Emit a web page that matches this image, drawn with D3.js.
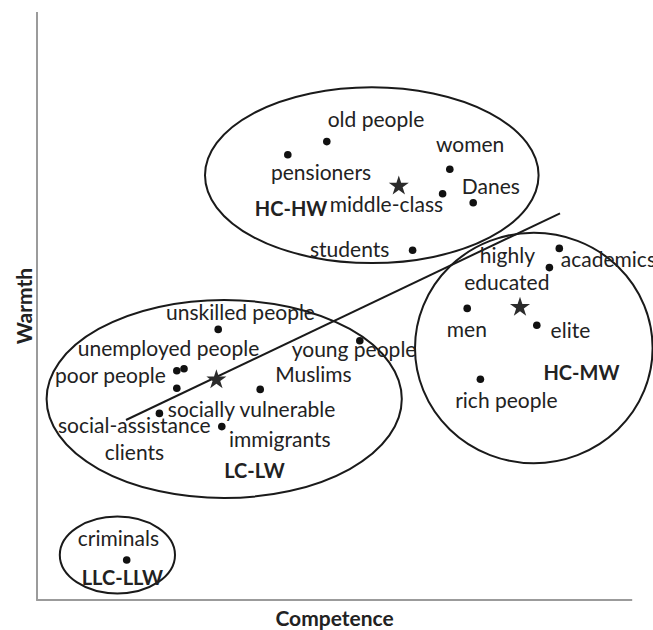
<!DOCTYPE html>
<meta charset="utf-8">
<style>
  body { margin: 0; background: #fff; }
  text { font-family: Lato, "Open Sans", sans-serif; fill: #222; }
</style>
<body>
<script src="https://d3js.org/d3.v7.min.js"></script>
<script>

var width = 653,
    height = 630;

// stereotype content, competence (c) and warmth (w) on a 0-100 scale
var hchwGroups = [
  {name: "old people",   c: 48.3, w: 76.4},
  {name: "pensioners",   c: 41.8, w: 74.2},
  {name: "women",        c: 68.8, w: 71.8},
  {name: "Danes",        c: 72.7, w: 66.2},
  {name: "middle-class", c: 67.6, w: 67.7},
  {name: "students",     c: 62.6, w: 58.3}
];
var hcmwGroups = [
  {name: "academics",       c: 87.05, w: 58.6},
  {name: "highly educated", c: 85.4,  w: 55.4},
  {name: "men",             c: 71.7,  w: 48.6},
  {name: "elite",           c: 83.3,  w: 45.8},
  {name: "rich people",     c: 73.9,  w: 36.8}
];
var lclwGroups = [
  {name: "unskilled people",          c: 30.2, w: 45.1},
  {name: "unemployed people",         c: 24.5, w: 38.55},
  {name: "poor people",               c: 23.3, w: 38.2},
  {name: "social-assistance clients", c: 23.3, w: 35.3},
  {name: "young people",              c: 53.8, w: 43.2},
  {name: "Muslims",                   c: 37.2, w: 35.1},
  {name: "socially vulnerable",       c: 20.4, w: 31.1},
  {name: "immigrants",                c: 30.8, w: 28.9}
];
var llcGroups = [
  {name: "criminals", c: 14.95, w: 6.67}
];

// cluster centroids (stars)
var centroids = [
  {cluster: "HC-HW", c: 60.3, w: 69.0},
  {cluster: "HC-MW", c: 80.5, w: 48.8},
  {cluster: "LC-LW", c: 29.9, w: 36.7}
];

// cluster ellipses: centre and half-extent in c / w units
var clusters = [
  {name: "HC-HW",   c: 55.8, w: 70.8, rc: 27.8, rw: 14.65},
  {name: "HC-MW",   c: 82.8, w: 42.0, rc: 19.8, rw: 19.2},
  {name: "LC-LW",   c: 31.2, w: 33.5, rc: 29.6, rw: 16.5},
  {name: "LLC-LLW", c: 13.4, w: 7.5,  rc: 9.6,  rw: 6.4}
];

// fitted line
var trend = [[14.83, 30.0], [87.17, 64.45]];

// where the words sit (left end of baseline)
var labels = [
  {text: "old people",        c: 48.45, w: 78.9},
  {text: "pensioners",        c: 39.0,  w: 70.0},
  {text: "women",             c: 66.5,  w: 74.7},
  {text: "Danes",             c: 70.8,  w: 67.7},
  {text: "middle-class",      c: 48.8,  w: 64.7},
  {text: "students",          c: 45.5,  w: 57.2},
  {text: "highly",            c: 73.8,  w: 56.2},
  {text: "educated",          c: 71.2,  w: 51.7},
  {text: "academics",         c: 87.3,  w: 55.55},
  {text: "men",               c: 68.3,  w: 43.9},
  {text: "elite",             c: 85.6,  w: 43.6},
  {text: "rich people",       c: 69.7,  w: 31.95},
  {text: "unskilled people",  c: 21.5,  w: 46.7},
  {text: "unemployed people", c: 6.8,   w: 40.7},
  {text: "poor people",       c: 3.0,   w: 36.1},
  {text: "young people",      c: 42.45, w: 40.55},
  {text: "Muslims",           c: 39.7,  w: 36.4},
  {text: "socially vulnerable", c: 21.8, w: 30.55},
  {text: "social-assistance", c: 3.5,   w: 27.9},
  {text: "clients",           c: 11.3,  w: 23.3},
  {text: "immigrants",        c: 32.0,  w: 25.55},
  {text: "criminals",         c: 6.8,   w: 9.0}
];
var clusterLabels = [
  {text: "HC-HW",   c: 36.3, w: 64.0},
  {text: "HC-MW",   c: 84.4, w: 36.7},
  {text: "LC-LW",   c: 31.2, w: 20.3},
  {text: "LLC-LLW", c: 7.45, w: 2.5}
];

var axisTitles = {x: "Competence", y: "Warmth"};

var x = d3.scaleLinear().domain([0, 100]).range([37, 637]);
var y = d3.scaleLinear().domain([0, 100]).range([600, 0]);

var svg = d3.select("body").append("svg")
    .attr("width", width)
    .attr("height", height);

// axes (no ticks, just the two grey lines)
svg.append("line")
    .attr("x1", x(0)).attr("x2", x(0))
    .attr("y1", y(0)).attr("y2", y(98))
    .attr("stroke", "#9b9b9b").attr("stroke-width", 2);
svg.append("line")
    .attr("x1", x(-0.15)).attr("x2", x(99.2))
    .attr("y1", y(0)).attr("y2", y(0))
    .attr("stroke", "#9b9b9b").attr("stroke-width", 2);

svg.append("text")
    .attr("x", (x(0) + x(99.2)) / 2)
    .attr("y", 626)
    .attr("text-anchor", "middle")
    .attr("font-weight", "bold")
    .attr("font-size", 21)
    .text(axisTitles.x);
svg.append("text")
    .attr("transform", "translate(32," + (y(0) + y(98)) / 2 + ") rotate(-90)")
    .attr("text-anchor", "middle")
    .attr("font-weight", "bold")
    .attr("font-size", 21)
    .text(axisTitles.y);

// ellipses
svg.selectAll(".cluster")
    .data(clusters)
  .enter().append("ellipse")
    .attr("class", "cluster")
    .attr("cx", function(d) { return x(d.c); })
    .attr("cy", function(d) { return y(d.w); })
    .attr("rx", function(d) { return x(d.c + d.rc) - x(d.c); })
    .attr("ry", function(d) { return y(d.w) - y(d.w + d.rw); })
    .attr("fill", "none")
    .attr("stroke", "#1a1a1a")
    .attr("stroke-width", 2);

svg.append("path")
    .datum(trend)
    .attr("d", d3.line().x(function(d) { return x(d[0]); }).y(function(d) { return y(d[1]); }))
    .attr("stroke", "#1a1a1a")
    .attr("stroke-width", 2)
    .attr("fill", "none");

// dots
var allGroups = hchwGroups.concat(hcmwGroups, lclwGroups, llcGroups);
svg.selectAll(".dot")
    .data(allGroups)
  .enter().append("circle")
    .attr("class", "dot")
    .attr("cx", function(d) { return x(d.c); })
    .attr("cy", function(d) { return y(d.w); })
    .attr("r", 3.8)
    .attr("fill", "#111");

// stars
svg.selectAll(".star")
    .data(centroids)
  .enter().append("path")
    .attr("class", "star")
    .attr("transform", function(d) { return "translate(" + x(d.c) + "," + y(d.w) + ")"; })
    .attr("d", d3.symbol(d3.symbolStar, 125))
    .attr("fill", "#2b2b2b");

svg.selectAll(".lbl")
    .data(labels)
  .enter().append("text")
    .attr("class", "lbl")
    .attr("x", function(d) { return x(d.c); })
    .attr("y", function(d) { return y(d.w); })
    .attr("font-size", 21)
    .text(function(d) { return d.text; });

svg.selectAll(".clbl")
    .data(clusterLabels)
  .enter().append("text")
    .attr("class", "clbl")
    .attr("x", function(d) { return x(d.c); })
    .attr("y", function(d) { return y(d.w); })
    .attr("font-size", 20)
    .attr("font-weight", "bold")
    .text(function(d) { return d.text; });

</script>
